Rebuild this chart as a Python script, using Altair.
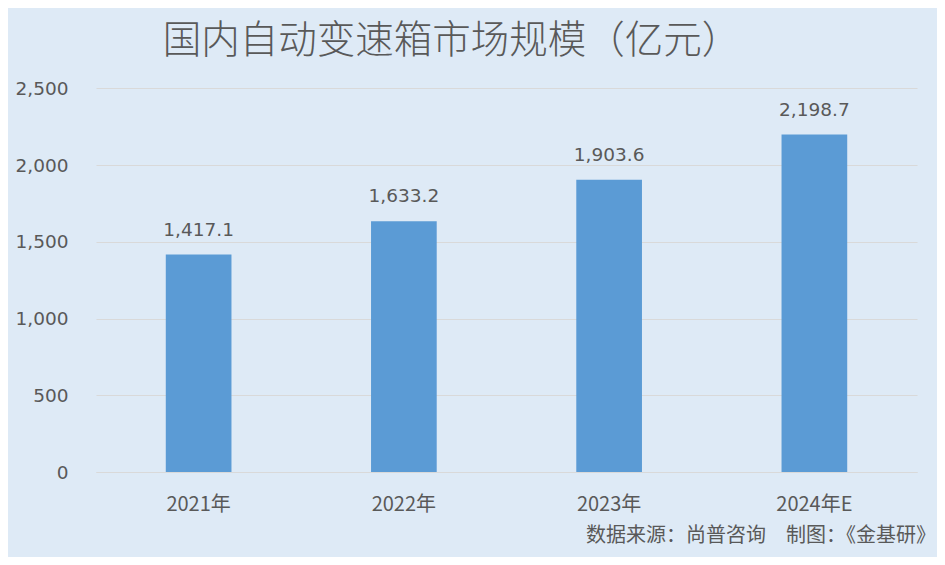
import altair as alt
import pandas as pd

categories = ["2021年", "2022年", "2023年", "2024年E"]
values = [1417.1, 1633.2, 1903.6, 2198.7]
labels = ["1,417.1", "1,633.2", "1,903.6", "2,198.7"]
source_text = ["数据来源：尚普咨询　制图：《金基研》"]

df = pd.DataFrame({"cat": categories, "val": values, "lab": labels})
FONT = "Noto Sans CJK SC"
NUMFONT = "DejaVu Sans"
GREY = "#595959"

base = alt.Chart(df)

bars = base.mark_bar(color="#5B9BD5").encode(
    x=alt.X("cat:N", sort=categories, title=None,
            scale=alt.Scale(paddingInner=0.68, paddingOuter=0.34),
            axis=alt.Axis(labelAngle=0, labelFontSize=20, labelColor=GREY, labelFont=FONT,
                          labelPadding=22, ticks=False, domain=True, domainColor="#D9D9D9")),
    y=alt.Y("val:Q", title=None,
            scale=alt.Scale(domain=[0, 2500]),
            axis=alt.Axis(values=[0, 500, 1000, 1500, 2000, 2500], format=",d",
                          labelFontSize=18.5, labelColor=GREY, labelFont=NUMFONT,
                          labelPadding=28, ticks=False, domain=False,
                          gridColor="#D9D9D9", gridWidth=1)),
)

text = base.mark_text(baseline="bottom", dy=-15, fontSize=18.5, color=GREY, font=NUMFONT).encode(
    x=alt.X("cat:N", sort=categories),
    y="val:Q",
    text="lab:N",
)

src = alt.Chart(pd.DataFrame({"t": source_text})).mark_text(
    align="right", baseline="middle", fontSize=20, color=GREY, font=FONT
).encode(x=alt.value(840), y=alt.value(463), text="t:N")

chart = alt.layer(bars, text, src).properties(
    width=929, height=549,
    title=alt.TitleParams("国内自动变速箱市场规模（亿元）", fontSize=38.5, font=FONT,
                          fontWeight=300, color=GREY, anchor="middle", dx=-55, offset=12),
    background="#DEEAF6",
    padding={"left": 7, "top": 13, "right": 20, "bottom": 43},
    autosize=alt.AutoSizeParams(type="fit", contains="padding"),
).configure_view(stroke=None)

chart.save("out.html", embed_options={"renderer": "svg", "actions": False})
